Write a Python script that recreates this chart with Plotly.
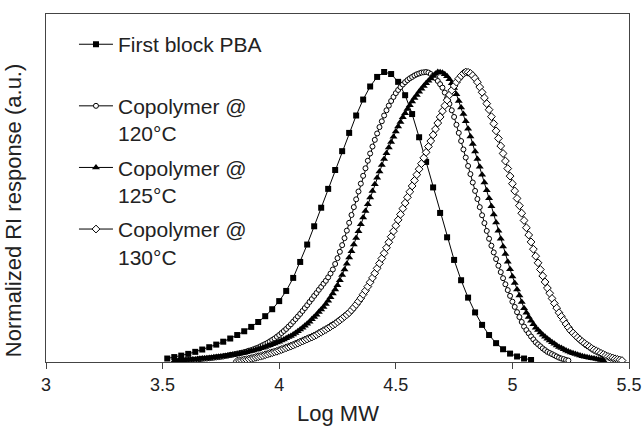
import plotly.graph_objects as go

# ---------------- data ----------------
pba_x = [3.52, 3.55, 3.58, 3.61, 3.64, 3.67, 3.70, 3.73, 3.76, 3.79,
         3.82, 3.85, 3.88, 3.91, 3.94, 3.97, 4.00, 4.03, 4.06, 4.09,
         4.12, 4.15, 4.18, 4.21, 4.24, 4.27, 4.30, 4.33, 4.36, 4.39,
         4.42, 4.45, 4.48, 4.51, 4.54, 4.57, 4.60, 4.63, 4.66, 4.69,
         4.72, 4.75, 4.78, 4.81, 4.84, 4.87, 4.90, 4.93, 4.96, 4.99,
         5.02, 5.05, 5.08]
pba_y = [0.012, 0.017, 0.022, 0.028, 0.035, 0.043, 0.051, 0.060, 0.070, 0.081,
         0.093, 0.106, 0.121, 0.138, 0.158, 0.182, 0.210, 0.245, 0.290, 0.345,
         0.405, 0.468, 0.532, 0.597, 0.662, 0.727, 0.790, 0.850, 0.905, 0.950,
         0.983, 1.000, 0.993, 0.966, 0.920, 0.855, 0.775, 0.690, 0.602, 0.514,
         0.430, 0.352, 0.282, 0.222, 0.171, 0.128, 0.093, 0.065, 0.044, 0.029,
         0.019, 0.012, 0.007]

c120_x = [3.57, 3.58, 3.59, 3.60, 3.61, 3.62, 3.63, 3.64, 3.65, 3.66,
          3.67, 3.68, 3.69, 3.70, 3.71, 3.72, 3.73, 3.74, 3.75, 3.76,
          3.77, 3.78, 3.79, 3.80, 3.81, 3.82, 3.83, 3.84, 3.85, 3.86,
          3.87, 3.88, 3.89, 3.90, 3.91, 3.92, 3.93, 3.94, 3.95, 3.96,
          3.97, 3.98, 3.99, 4.00, 4.01, 4.02, 4.03, 4.04, 4.05, 4.06,
          4.07, 4.08, 4.09, 4.10, 4.11, 4.12, 4.13, 4.14, 4.15, 4.16,
          4.17, 4.18, 4.19, 4.20, 4.21, 4.22, 4.23, 4.24, 4.25, 4.26,
          4.27, 4.28, 4.29, 4.30, 4.31, 4.32, 4.33, 4.34, 4.35, 4.36,
          4.37, 4.38, 4.39, 4.40, 4.41, 4.42, 4.43, 4.44, 4.45, 4.46,
          4.47, 4.48, 4.49, 4.50, 4.51, 4.52, 4.53, 4.54, 4.55, 4.56,
          4.57, 4.58, 4.59, 4.60, 4.61, 4.62, 4.63, 4.64, 4.65, 4.66,
          4.67, 4.68, 4.69, 4.70, 4.71, 4.72, 4.73, 4.74, 4.75, 4.76,
          4.77, 4.78, 4.79, 4.80, 4.81, 4.82, 4.83, 4.84, 4.85, 4.86,
          4.87, 4.88, 4.89, 4.90, 4.91, 4.92, 4.93, 4.94, 4.95, 4.96,
          4.97, 4.98, 4.99, 5.00, 5.01, 5.02, 5.03, 5.04, 5.05, 5.06,
          5.07, 5.08, 5.09, 5.10, 5.11, 5.12, 5.13, 5.14, 5.15, 5.16,
          5.17, 5.18, 5.19, 5.20, 5.21, 5.22, 5.23, 5.24]
c120_y = [0.004, 0.005, 0.005, 0.006, 0.006, 0.007, 0.008, 0.008, 0.009, 0.010,
          0.011, 0.012, 0.012, 0.013, 0.014, 0.015, 0.016, 0.017, 0.018, 0.019,
          0.021, 0.022, 0.024, 0.025, 0.027, 0.029, 0.030, 0.032, 0.034, 0.036,
          0.039, 0.041, 0.044, 0.047, 0.050, 0.054, 0.058, 0.062, 0.066, 0.071,
          0.076, 0.081, 0.087, 0.093, 0.100, 0.107, 0.114, 0.122, 0.130, 0.139,
          0.148, 0.157, 0.166, 0.176, 0.186, 0.196, 0.207, 0.217, 0.228, 0.238,
          0.249, 0.259, 0.270, 0.280, 0.292, 0.305, 0.319, 0.338, 0.358, 0.380,
          0.403, 0.427, 0.453, 0.480, 0.507, 0.534, 0.561, 0.588, 0.615, 0.642,
          0.668, 0.694, 0.719, 0.743, 0.766, 0.788, 0.810, 0.830, 0.850, 0.868,
          0.884, 0.900, 0.914, 0.927, 0.938, 0.948, 0.957, 0.965, 0.972, 0.978,
          0.983, 0.988, 0.992, 0.995, 0.998, 0.999, 1.000, 0.998, 0.993, 0.987,
          0.979, 0.969, 0.958, 0.946, 0.929, 0.910, 0.890, 0.868, 0.845, 0.818,
          0.790, 0.762, 0.733, 0.705, 0.676, 0.648, 0.619, 0.590, 0.562, 0.534,
          0.506, 0.479, 0.452, 0.425, 0.401, 0.378, 0.355, 0.332, 0.310, 0.289,
          0.268, 0.248, 0.228, 0.208, 0.190, 0.172, 0.155, 0.138, 0.122, 0.110,
          0.099, 0.088, 0.078, 0.068, 0.061, 0.054, 0.047, 0.041, 0.035, 0.031,
          0.027, 0.023, 0.019, 0.015, 0.012, 0.010, 0.007, 0.005]

c125_x = [3.55, 3.56, 3.57, 3.58, 3.59, 3.60, 3.61, 3.62, 3.63, 3.64,
          3.65, 3.66, 3.67, 3.68, 3.69, 3.70, 3.71, 3.72, 3.73, 3.74,
          3.75, 3.76, 3.77, 3.78, 3.79, 3.80, 3.81, 3.82, 3.83, 3.84,
          3.85, 3.86, 3.87, 3.88, 3.89, 3.90, 3.91, 3.92, 3.93, 3.94,
          3.95, 3.96, 3.97, 3.98, 3.99, 4.00, 4.01, 4.02, 4.03, 4.04,
          4.05, 4.06, 4.07, 4.08, 4.09, 4.10, 4.11, 4.12, 4.13, 4.14,
          4.15, 4.16, 4.17, 4.18, 4.19, 4.20, 4.21, 4.22, 4.23, 4.24,
          4.25, 4.26, 4.27, 4.28, 4.29, 4.30, 4.31, 4.32, 4.33, 4.34,
          4.35, 4.36, 4.37, 4.38, 4.39, 4.40, 4.41, 4.42, 4.43, 4.44,
          4.45, 4.46, 4.47, 4.48, 4.49, 4.50, 4.51, 4.52, 4.53, 4.54,
          4.55, 4.56, 4.57, 4.58, 4.59, 4.60, 4.61, 4.62, 4.63, 4.64,
          4.65, 4.66, 4.67, 4.68, 4.69, 4.70, 4.71, 4.72, 4.73, 4.74,
          4.75, 4.76, 4.77, 4.78, 4.79, 4.80, 4.81, 4.82, 4.83, 4.84,
          4.85, 4.86, 4.87, 4.88, 4.89, 4.90, 4.91, 4.92, 4.93, 4.94,
          4.95, 4.96, 4.97, 4.98, 4.99, 5.00, 5.01, 5.02, 5.03, 5.04,
          5.05, 5.06, 5.07, 5.08, 5.09, 5.10, 5.11, 5.12, 5.13, 5.14,
          5.15, 5.16, 5.17, 5.18, 5.19, 5.20, 5.21, 5.22, 5.23, 5.24,
          5.25, 5.26, 5.27, 5.28, 5.29, 5.30, 5.31, 5.32, 5.33, 5.34,
          5.35, 5.36, 5.37, 5.38, 5.39]
c125_y = [0.004, 0.004, 0.005, 0.006, 0.006, 0.007, 0.008, 0.008, 0.009, 0.009,
          0.010, 0.011, 0.012, 0.012, 0.013, 0.014, 0.015, 0.016, 0.017, 0.018,
          0.019, 0.020, 0.021, 0.022, 0.024, 0.025, 0.026, 0.027, 0.029, 0.030,
          0.032, 0.034, 0.036, 0.038, 0.040, 0.042, 0.044, 0.047, 0.049, 0.052,
          0.055, 0.058, 0.061, 0.064, 0.067, 0.070, 0.074, 0.078, 0.082, 0.086,
          0.090, 0.095, 0.100, 0.106, 0.112, 0.118, 0.125, 0.132, 0.139, 0.147,
          0.155, 0.163, 0.172, 0.181, 0.190, 0.200, 0.211, 0.223, 0.236, 0.250,
          0.265, 0.282, 0.300, 0.319, 0.339, 0.360, 0.382, 0.405, 0.428, 0.451,
          0.475, 0.498, 0.521, 0.544, 0.567, 0.590, 0.613, 0.635, 0.657, 0.679,
          0.700, 0.720, 0.740, 0.759, 0.777, 0.795, 0.812, 0.828, 0.844, 0.858,
          0.872, 0.885, 0.898, 0.910, 0.921, 0.932, 0.942, 0.952, 0.961, 0.970,
          0.978, 0.986, 0.994, 1.000, 0.999, 0.997, 0.992, 0.985, 0.975, 0.961,
          0.945, 0.923, 0.900, 0.878, 0.855, 0.830, 0.804, 0.778, 0.752, 0.726,
          0.700, 0.673, 0.646, 0.619, 0.592, 0.565, 0.537, 0.509, 0.481, 0.453,
          0.425, 0.398, 0.372, 0.346, 0.320, 0.295, 0.272, 0.250, 0.229, 0.207,
          0.185, 0.170, 0.155, 0.142, 0.130, 0.118, 0.110, 0.102, 0.094, 0.087,
          0.080, 0.074, 0.068, 0.063, 0.057, 0.052, 0.048, 0.044, 0.040, 0.036,
          0.033, 0.030, 0.028, 0.025, 0.022, 0.020, 0.018, 0.016, 0.015, 0.013,
          0.012, 0.010, 0.009, 0.007, 0.006]

c130_x = [3.82, 3.83, 3.84, 3.85, 3.86, 3.87, 3.88, 3.89, 3.90, 3.91,
          3.92, 3.93, 3.94, 3.95, 3.96, 3.97, 3.98, 3.99, 4.00, 4.01,
          4.02, 4.03, 4.04, 4.05, 4.06, 4.07, 4.08, 4.09, 4.10, 4.11,
          4.12, 4.13, 4.14, 4.15, 4.16, 4.17, 4.18, 4.19, 4.20, 4.21,
          4.22, 4.23, 4.24, 4.25, 4.26, 4.27, 4.28, 4.29, 4.30, 4.31,
          4.32, 4.33, 4.34, 4.35, 4.36, 4.37, 4.38, 4.39, 4.40, 4.41,
          4.42, 4.43, 4.44, 4.45, 4.46, 4.47, 4.48, 4.49, 4.50, 4.51,
          4.52, 4.53, 4.54, 4.55, 4.56, 4.57, 4.58, 4.59, 4.60, 4.61,
          4.62, 4.63, 4.64, 4.65, 4.66, 4.67, 4.68, 4.69, 4.70, 4.71,
          4.72, 4.73, 4.74, 4.75, 4.76, 4.77, 4.78, 4.79, 4.80, 4.81,
          4.82, 4.83, 4.84, 4.85, 4.86, 4.87, 4.88, 4.89, 4.90, 4.91,
          4.92, 4.93, 4.94, 4.95, 4.96, 4.97, 4.98, 4.99, 5.00, 5.01,
          5.02, 5.03, 5.04, 5.05, 5.06, 5.07, 5.08, 5.09, 5.10, 5.11,
          5.12, 5.13, 5.14, 5.15, 5.16, 5.17, 5.18, 5.19, 5.20, 5.21,
          5.22, 5.23, 5.24, 5.25, 5.26, 5.27, 5.28, 5.29, 5.30, 5.31,
          5.32, 5.33, 5.34, 5.35, 5.36, 5.37, 5.38, 5.39, 5.40, 5.41,
          5.42, 5.43, 5.44, 5.45, 5.46, 5.47]
c130_y = [0.003, 0.004, 0.005, 0.007, 0.008, 0.010, 0.012, 0.014, 0.016, 0.018,
          0.020, 0.022, 0.025, 0.027, 0.030, 0.032, 0.035, 0.037, 0.040, 0.043,
          0.046, 0.049, 0.052, 0.055, 0.058, 0.062, 0.065, 0.069, 0.072, 0.076,
          0.079, 0.083, 0.086, 0.090, 0.094, 0.099, 0.103, 0.108, 0.112, 0.117,
          0.122, 0.127, 0.132, 0.138, 0.144, 0.150, 0.157, 0.163, 0.170, 0.179,
          0.188, 0.198, 0.209, 0.220, 0.233, 0.246, 0.260, 0.275, 0.290, 0.306,
          0.323, 0.340, 0.357, 0.375, 0.394, 0.413, 0.432, 0.451, 0.470, 0.490,
          0.509, 0.529, 0.548, 0.568, 0.587, 0.607, 0.626, 0.646, 0.665, 0.684,
          0.704, 0.723, 0.743, 0.762, 0.783, 0.803, 0.824, 0.845, 0.865, 0.884,
          0.903, 0.921, 0.937, 0.952, 0.965, 0.977, 0.987, 0.995, 1.000, 0.999,
          0.995, 0.988, 0.978, 0.965, 0.948, 0.930, 0.911, 0.891, 0.870, 0.846,
          0.822, 0.797, 0.771, 0.745, 0.719, 0.693, 0.667, 0.641, 0.615, 0.590,
          0.564, 0.539, 0.513, 0.488, 0.463, 0.438, 0.414, 0.389, 0.365, 0.342,
          0.319, 0.297, 0.276, 0.255, 0.237, 0.219, 0.202, 0.186, 0.170, 0.157,
          0.144, 0.131, 0.119, 0.108, 0.100, 0.092, 0.084, 0.077, 0.070, 0.064,
          0.058, 0.053, 0.047, 0.042, 0.038, 0.034, 0.030, 0.026, 0.022, 0.019,
          0.016, 0.014, 0.011, 0.009, 0.007, 0.005]

series_names = ["First block PBA<br> ", "Copolymer @<br>120°C",
                "Copolymer @<br>125°C", "Copolymer @<br>130°C"]
x_ticks = [3, 3.5, 4, 4.5, 5, 5.5]
x_title = "Log MW"
y_title = "Normalized RI response (a.u.)"

for a, b in [(pba_x, pba_y), (c120_x, c120_y), (c125_x, c125_y), (c130_x, c130_y)]:
    assert len(a) == len(b), (len(a), len(b))

FONT = "Arial, Liberation Sans, sans-serif"
TXT = "#222222"

fig = go.Figure()
styles = [
    dict(symbol="square", size=6, color="black", line=dict(color="black", width=0)),
    dict(symbol="circle", size=5, color="white", line=dict(color="black", width=1)),
    dict(symbol="triangle-up", size=7, color="black", line=dict(color="black", width=0)),
    dict(symbol="diamond", size=6, color="white", line=dict(color="black", width=1)),
]
datasets = [(pba_x, pba_y), (c120_x, c120_y), (c125_x, c125_y), (c130_x, c130_y)]
for i, ((xs, ys), name, mk) in enumerate(zip(datasets, series_names, styles)):
    fig.add_trace(go.Scatter(
        x=xs, y=ys, name=name, mode="lines+markers",
        line=dict(color="black", width=1),
        marker=mk, legendgroup=f"g{i}",
    ))

fig.update_layout(
    width=643, height=431,
    margin=dict(l=46, r=14, t=14, b=69, autoexpand=False),
    paper_bgcolor="white", plot_bgcolor="white",
    font=dict(family=FONT, color=TXT),
    showlegend=True,
    legend=dict(
        x=0.048, y=0.971, xanchor="left", yanchor="top",
        bgcolor="rgba(0,0,0,0)", borderwidth=0,
        font=dict(family=FONT, size=21, color=TXT),
        valign="top", tracegroupgap=4, itemwidth=34,
    ),
    xaxis=dict(
        range=[3, 5.5], tickvals=x_ticks, ticktext=[str(t) for t in x_ticks],
        showgrid=False, zeroline=False, automargin=False,
        showline=True, linecolor="#444444", linewidth=1.3, mirror=True,
        ticks="outside", ticklen=6, tickcolor="#444444", tickwidth=1,
        tickfont=dict(family=FONT, size=18, color=TXT),
        ticklabeloverflow="allow",
    ),
    yaxis=dict(
        range=[0, 1.2], showgrid=False, zeroline=False, automargin=False,
        showticklabels=False, ticks="",
        showline=True, linecolor="#444444", linewidth=1.3, mirror=True,
    ),
    annotations=[
        dict(text=x_title, xref="paper", yref="paper", x=0.5, y=-0.147,
             xanchor="center", yanchor="middle", showarrow=False,
             font=dict(family=FONT, size=22, color=TXT)),
        dict(text=y_title, xref="paper", yref="paper", x=-0.0546, y=0.434,
             xanchor="center", yanchor="middle", textangle=-90, showarrow=False,
             font=dict(family=FONT, size=22, color=TXT)),
    ],
)

# place the figure flush with the window's top-left corner
fig.write_html("out.html", config={"displayModeBar": False},
               post_script="document.body.style.margin='0px';")
